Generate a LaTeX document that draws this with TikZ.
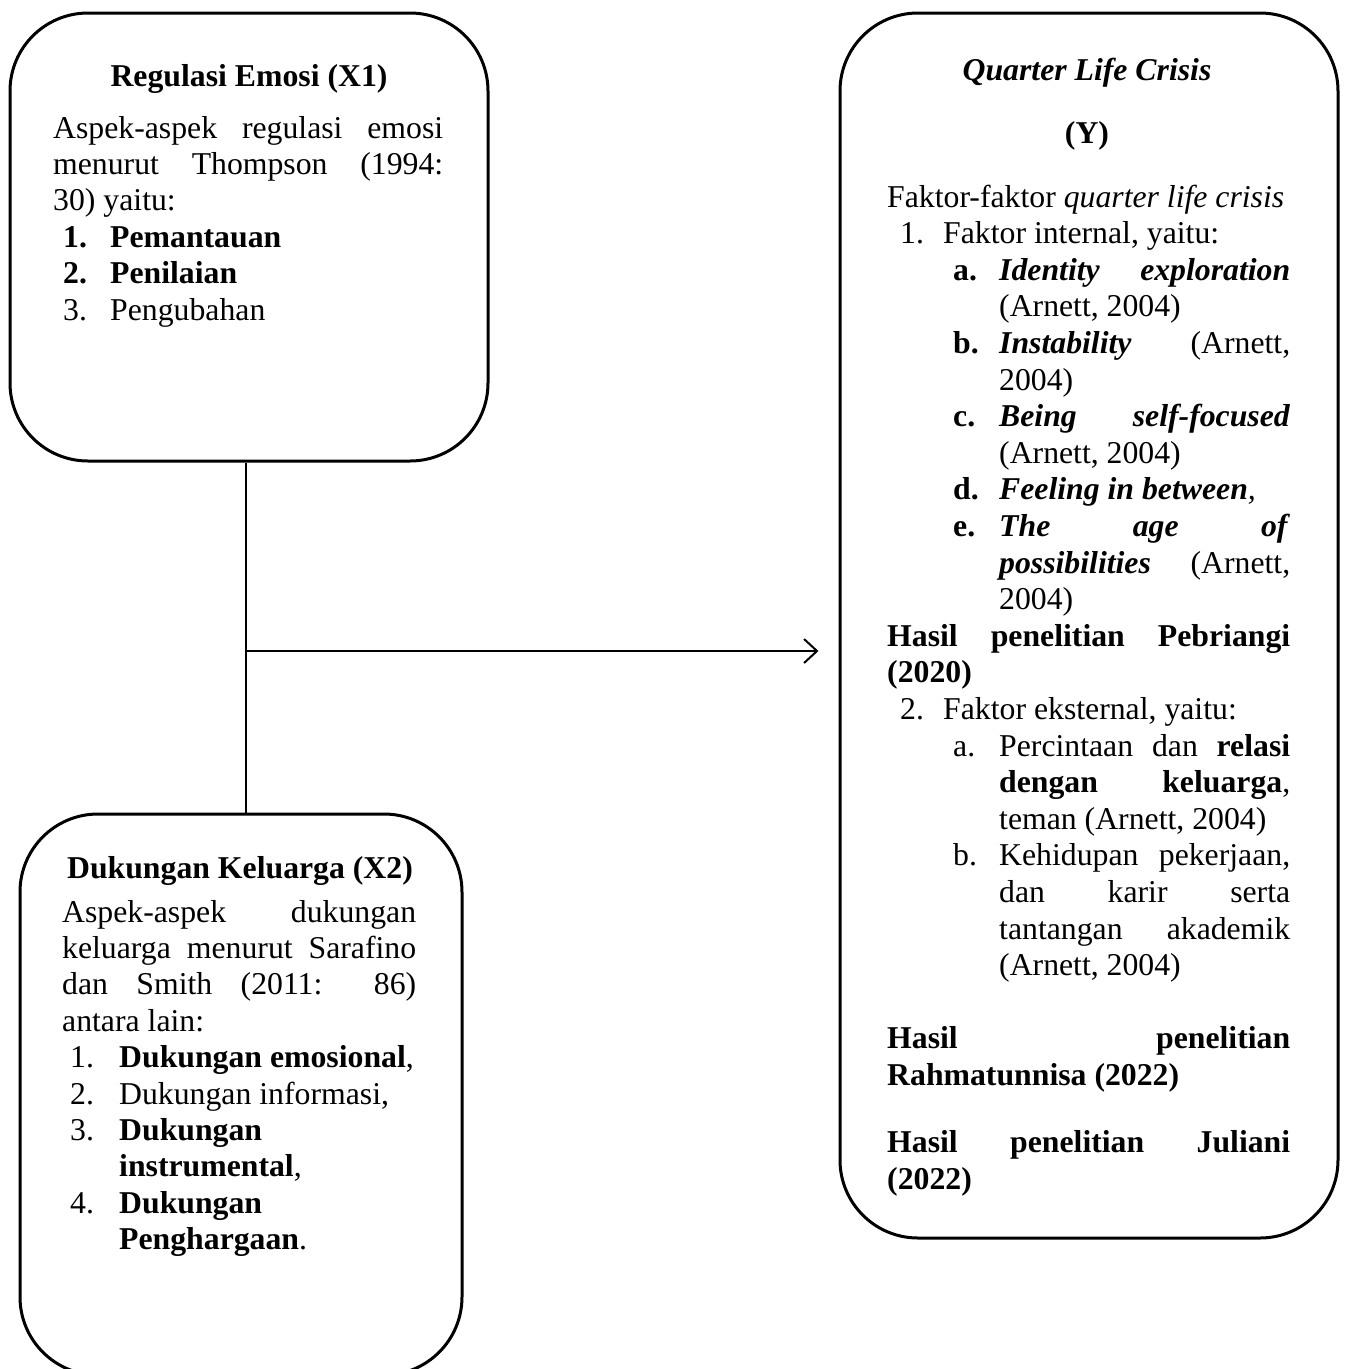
\documentclass[tikz,border=0pt]{standalone}
\usepackage{fontspec}
\setmainfont{Liberation Serif}
\usepackage{tikz}
\usetikzlibrary{
  arrows.meta,
  calc,
  positioning
}

\hyphenpenalty=10000
\exhyphenpenalty=10000
\tolerance=10000
\hbadness=10000
\newcommand{\entry}[4]{\par\hangindent=#2\hangafter=1\noindent\hbox to #2{\hskip#1#3\hfil}#4}

\begin{document}
\begin{tikzpicture}[x=1pt, y=-1pt,
    box/.style={draw, line width=3, rounded corners=78pt},
    txt/.style={anchor=base west, inner sep=0, align=justify, font=\fontsize{31.75}{36.4}\selectfont},
    ttl/.style={anchor=base, inner sep=0, font=\fontsize{31.75}{36.4}\selectfont\bfseries},
    >={Straight Barb[length=13pt, width=24pt]}]
            \useasboundingbox (0, 0) rectangle (1346, 1369);
            \node[box, minimum width=478pt, minimum height=448pt] (x1) at (249, 237) {};
            \node[box, minimum width=442pt, minimum height=561pt] (x2) at (241, 1094.5) {};
            \node[box, minimum width=498pt, minimum height=1225pt] (y) at (1089, 625.5) {};
            \node[ttl] (x1ttl) at (249, 86) {Regulasi Emosi (X1)};
            \node[txt, text width=390pt] (x1txt) at (53, 138) {Aspek-aspek regulasi emosi\linebreak menurut Thompson (1994:\linebreak 30) yaitu:
              \entry{10pt}{57pt}{\textbf{1.}}{\textbf{Pemantauan}}
              \entry{10pt}{57pt}{\textbf{2.}}{\textbf{Penilaian}}
              \entry{10pt}{57pt}{3.}{Pengubahan}\par};
            \node[ttl] (x2ttl) at (240, 878) {Dukungan Keluarga (X2)};
            \node[txt, text width=354pt] (x2txt) at (62, 922) {Aspek-aspek dukungan\linebreak keluarga menurut Sarafino\linebreak dan Smith (2011: 86)\linebreak antara lain:
              \entry{8pt}{57pt}{1.}{\textbf{Dukungan emosional},}
              \entry{8pt}{57pt}{2.}{Dukungan informasi,}
              \entry{8pt}{57pt}{3.}{\textbf{Dukungan}\newline\textbf{instrumental},}
              \entry{8pt}{57pt}{4.}{\textbf{Dukungan}\newline\textbf{Penghargaan}.}\par};
            \node[ttl, font=\fontsize{31.75}{36.4}\selectfont\bfseries\itshape] (yttl) at (1087, 80) {Quarter Life Crisis};
            \node[ttl] (yvar) at (1087, 143) {(Y)};
            \node[txt, text width=403pt, font=\fontsize{31.75}{36.6}\selectfont] (ytxt) at (887, 207) {Faktor-faktor \textit{quarter life crisis}
              \entry{13pt}{56pt}{1.}{Faktor internal, yaitu:}
              \entry{66pt}{112pt}{\textbf{a.}}{\textbf{\textit{Identity exploration}}\linebreak (Arnett, 2004)}
              \entry{66pt}{112pt}{\textbf{b.}}{\textbf{\textit{Instability}} (Arnett,\linebreak 2004)}
              \entry{66pt}{112pt}{\textbf{c.}}{\textbf{\textit{Being self-focused}}\linebreak (Arnett, 2004)}
              \entry{66pt}{112pt}{\textbf{d.}}{\textbf{\textit{Feeling in between}}\textit{,}}
              \entry{66pt}{112pt}{\textbf{e.}}{\textbf{\textit{The age of}}\linebreak \textbf{\textit{possibilities}} (Arnett,\linebreak 2004)}
              \par\noindent\textbf{Hasil penelitian Pebriangi\linebreak (2020)}
              \entry{13pt}{56pt}{2.}{Faktor eksternal, yaitu:}
              \entry{66pt}{112pt}{a.}{Percintaan dan \textbf{relasi}\linebreak \textbf{dengan keluarga},\linebreak teman (Arnett, 2004)}
              \entry{66pt}{112pt}{b.}{Kehidupan pekerjaan,\linebreak dan karir serta\linebreak tantangan akademik\linebreak (Arnett, 2004)}
              \par\vskip36.6pt\noindent\textbf{Hasil penelitian\linebreak Rahmatunnisa (2022)}
              \par\vskip30.8pt\noindent\textbf{Hasil penelitian Juliani\linebreak (2022)}\par};
            \coordinate (jn) at (245.5, 651);
            \draw[line width=2] (x1.south -| jn) -- (x2.north -| jn);
            \draw[->, line width=2, shorten >=20pt] (jn) -- (y.west |- jn);
          \end{tikzpicture}
\end{document}
